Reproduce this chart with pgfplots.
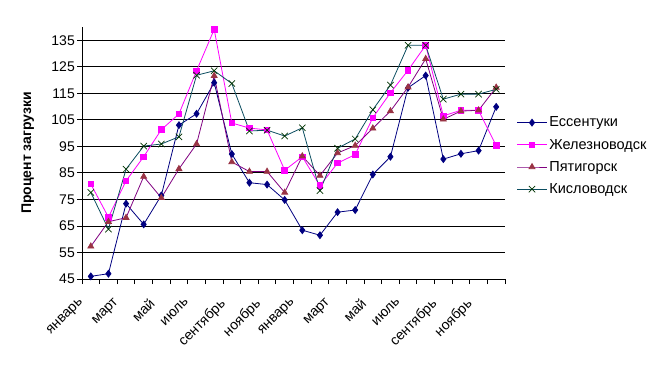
\documentclass[border=0pt]{standalone}
\usepackage{pgfplots}
\pgfplotsset{compat=1.18}
\usepackage{fontspec}
\setmainfont{Liberation Sans}
\definecolor{cE}{HTML}{000080}
\definecolor{cZ}{HTML}{FF00FF}
\definecolor{cPl}{HTML}{800080}
\definecolor{cPm}{HTML}{993344}
\definecolor{cKl}{HTML}{0B4D60}
\definecolor{cKm}{HTML}{003300}
\begin{document}
\begin{tikzpicture}[x=1pt,y=1pt]
\path[use as bounding box] (0,0) rectangle (668,370);
\begin{axis}[
  at={(82pt,91pt)}, anchor=south west,
  scale only axis, width=423pt, height=252pt,
  xmin=-0.5, xmax=23.5, ymin=45, ymax=140,
  axis x line*=bottom, axis y line*=left,
  axis line style={-, black, line width=0.8pt},
  ytick={45,55,...,135},
  ymajorgrids, grid style={black, line width=0.8pt},
  xtick={0,2,...,22},
  xticklabels={январь,март,май,июль,сентябрь,ноябрь,январь,март,май,июль,сентябрь,ноябрь},
  minor xtick={-0.5,0.5,...,23.5},
  major x tick style={draw=none},
  minor tick length=5pt, major tick length=5pt,
  tick align=outside,
  tick style={black, line width=0.8pt},
  xticklabel style={xshift=-13pt, yshift=-13pt, rotate=45, anchor=north east, inner sep=0pt, font=\fontsize{14}{15}\selectfont},
  yticklabel style={font=\fontsize{14}{15}\selectfont, inner sep=2pt},
  /pgf/number format/assume math mode=true,
  ylabel={\textbf{Процент загрузки}},
  ylabel style={at={(axis description cs:-0.128,0.5)}, anchor=center, font=\fontsize{14}{15}\selectfont},
  clip=false,
  legend cell align=left,
  legend style={draw=none, fill=none, at={(axis description cs:1.027,0.652)}, anchor=north west,
    font=\fontsize{14.5}{15}\selectfont, row sep=6.7pt, inner sep=0pt},
  legend image code/.code={\draw[mark repeat=2,mark phase=2] plot coordinates {(0pt,0pt) (15pt,0pt) (30pt,0pt)};},
]
\addplot[cE, line width=0.8pt, mark=diamond*, mark size=3.4pt, mark options={fill=cE, draw=cE}] coordinates {
(0,46) (1,47) (2,73.4) (3,65.6) (4,76.5) (5,103) (6,107.3) (7,119) (8,92.1) (9,81.3) (10,80.6) (11,74.8)
(12,63.4) (13,61.5) (14,70.2) (15,71) (16,84.4) (17,91.1) (18,117.1) (19,121.7) (20,90.2) (21,92.2) (22,93.4) (23,109.9)};
\addlegendentry{Ессентуки}
\addplot[cZ, line width=0.8pt, mark=square*, mark size=2.8pt, mark options={fill=cZ, draw=cZ}] coordinates {
(0,80.8) (1,68.3) (2,82) (3,91.1) (4,101.3) (5,107.2) (6,123.5) (7,139.1) (8,103.8) (9,101.9) (10,101.2) (11,86)
(12,91.1) (13,80.2) (14,88.7) (15,91.9) (16,105.8) (17,115.2) (18,123.7) (19,133.1) (20,106.5) (21,108.6) (22,108.6) (23,95.3)};
\addlegendentry{Железноводск}
\addplot[cPl, line width=0.8pt, mark=triangle*, mark size=3.4pt, mark options={fill=cPm, draw=cPm}] coordinates {
(0,57.3) (1,66.6) (2,68.1) (3,83.6) (4,75.6) (5,86.5) (6,95.9) (7,121.6) (8,89.1) (9,85.5) (10,85.5) (11,77.6)
(12,91.3) (13,84) (14,92.5) (15,95.3) (16,101.8) (17,108.3) (18,117.3) (19,128) (20,105.2) (21,108.3) (22,108.6) (23,117.2)};
\addlegendentry{Пятигорск}
\addplot[cKl, line width=0.8pt, mark=x, mark size=4.5pt, mark options={draw=cKm, line width=0.7pt}] coordinates {
(0,77.6) (1,63.8) (2,86.4) (3,95.1) (4,95.9) (5,98.6) (6,121.8) (7,123.5) (8,118.7) (9,100.8) (10,101.1) (11,98.9)
(12,102) (13,78.3) (14,94.3) (15,97.8) (16,108.8) (17,118.1) (18,133.1) (19,133.1) (20,112.8) (21,114.7) (22,114.7) (23,116.5)};
\addlegendentry{Кисловодск}
\end{axis}
\end{tikzpicture}
\end{document}
